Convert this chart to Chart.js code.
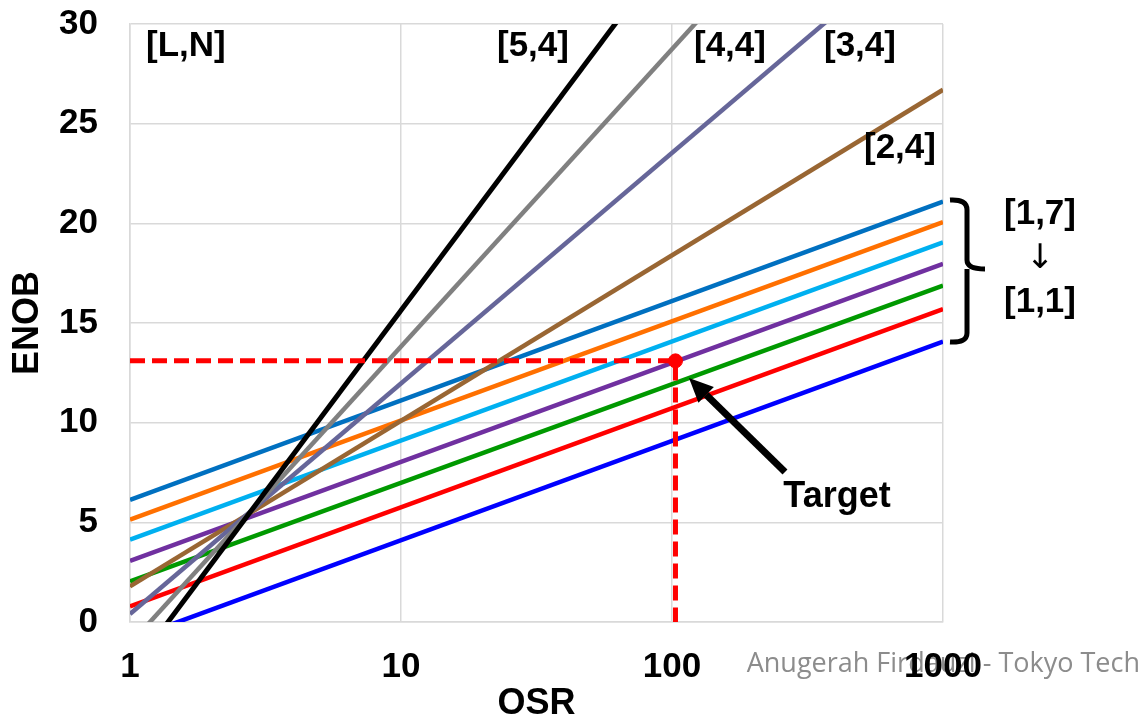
<!DOCTYPE html>
<html>
<head>
<meta charset="utf-8">
<script src="https://cdn.jsdelivr.net/npm/chart.js@4.4.0/dist/chart.umd.min.js"></script>
<style>
  html, body { margin: 0; padding: 0; background: #fff; }
  #wrap { width: 1141px; height: 719px; }
</style>
</head>
<body>
<div id="wrap"><canvas id="enobChart" width="1141" height="719"></canvas></div>
<script>
// [L,N] = modulator order, quantizer bits. Each line read at OSR = 1 and OSR = 1000.
const osrPoints = [1, 1000];
const seriesLabels = ['[5,4]', '[4,4]', '[3,4]', '[2,4]', '[1,7]', '[1,6]', '[1,5]', '[1,4]', '[1,3]', '[1,2]', '[1,1]'];
const enobAtOsr1 = [-2.55, -1.10, 0.40, 1.79, 6.13, 5.13, 4.13, 3.07, 2.04, 0.78, -0.88];
const enobAtOsr1000 = [52.0, 43.66, 35.1, 26.7, 21.09, 20.06, 19.04, 17.97, 16.88, 15.70, 14.07];
const seriesColors = ['#000000', '#808080', '#666699', '#996633', '#0070C0', '#FF7000', '#00B0F0', '#7030A0', '#009900', '#FF0000', '#0000FF'];

const xTickValues = [1, 10, 100, 1000];
const yTickValues = [0, 5, 10, 15, 20, 25, 30];

const targetOsr = 103;
const targetEnob = 13.1;

const boldFont = '"Liberation Sans", Arial, sans-serif';

const lineDatasets = seriesLabels.map((label, i) => ({
    label,
    data: osrPoints.map((x, j) => ({ x, y: j === 0 ? enobAtOsr1[i] : enobAtOsr1000[i] })),
    borderColor: seriesColors[i],
    borderWidth: i === 0 ? 5 : 4.5,
    pointRadius: 0,
    tension: 0
}));

const targetDatasets = [
    {
        label: 'target point',
        data: [{ x: targetOsr, y: targetEnob }],
        showLine: false,
        pointRadius: 7,
        pointBackgroundColor: '#FF0000',
        pointBorderColor: '#FF0000'
    },
    {
        label: 'target guide',
        data: [{ x: 1, y: targetEnob }, { x: targetOsr, y: targetEnob }, { x: targetOsr, y: 0 }],
        borderColor: '#FF0000',
        borderWidth: 5,
        borderDash: [15, 7],
        pointRadius: 0,
        tension: 0
    }
];

// text, bracket, arrow and watermark drawn on top of the chart
const annotations = {
    id: 'annotations',
    beforeDraw(chart) {
        const ctx = chart.ctx;
        ctx.save();
        ctx.fillStyle = '#8c8c8c';
        ctx.font = '27px "Open Sans", sans-serif';
        ctx.textAlign = 'right';
        ctx.textBaseline = 'alphabetic';
        ctx.fillText('Anugerah Firdauzi - Tokyo Tech', 1140, 672);
        ctx.restore();
    },
    afterDatasetsDraw(chart) {
        const ctx = chart.ctx;
        ctx.save();
        ctx.fillStyle = '#000';
        ctx.font = 'bold 35px ' + boldFont;
        ctx.textAlign = 'left';
        ctx.textBaseline = 'middle';
        ctx.fillText('[L,N]', 146, 46);
        ctx.fillText('[5,4]', 497, 46);
        ctx.fillText('[4,4]', 694, 46);
        ctx.fillText('[3,4]', 824, 46);
        ctx.fillText('[2,4]', 864, 148);
        ctx.textAlign = 'center';
        ctx.fillText('[1,7]', 1040, 214);
        ctx.fillText('[1,1]', 1040, 302);
        ctx.font = 'bold 36px ' + boldFont;
        ctx.fillText('Target', 837, 497);

        ctx.font = '34px "DejaVu Sans", sans-serif';
        ctx.fillText('\u2193', 1040, 259);

        // bracket
        ctx.strokeStyle = '#000';
        ctx.lineWidth = 5;
        ctx.lineJoin = 'round';
        ctx.lineCap = 'butt';
        ctx.beginPath();
        ctx.moveTo(950, 200);
        ctx.quadraticCurveTo(967, 199, 967, 210);
        ctx.lineTo(967, 260);
        ctx.quadraticCurveTo(967, 269, 985, 269);
        ctx.moveTo(967, 269);
        ctx.quadraticCurveTo(967, 278, 967, 290);
        ctx.lineTo(967, 333);
        ctx.quadraticCurveTo(967, 343, 950, 342);
        ctx.stroke();

        // arrow to target
        const tail = { x: 785, y: 472 };
        const tip = { x: 689, y: 378 };
        const ang = Math.atan2(tip.y - tail.y, tip.x - tail.x);
        const headLen = 24, headHalf = 11;
        const bx = tip.x - headLen * Math.cos(ang), by = tip.y - headLen * Math.sin(ang);
        ctx.lineWidth = 7;
        ctx.beginPath();
        ctx.moveTo(tail.x, tail.y);
        ctx.lineTo(bx, by);
        ctx.stroke();
        ctx.beginPath();
        ctx.moveTo(tip.x, tip.y);
        ctx.lineTo(bx + headHalf * Math.sin(ang), by - headHalf * Math.cos(ang));
        ctx.lineTo(bx - headHalf * Math.sin(ang), by + headHalf * Math.cos(ang));
        ctx.closePath();
        ctx.fill();
        ctx.restore();
    }
};

new Chart(document.getElementById('enobChart'), {
    type: 'line',
    data: { datasets: [...targetDatasets, ...lineDatasets] },
    options: {
        responsive: false,
        animation: false,
        layout: { padding: { left: 0, right: 198, top: 24, bottom: 0 } },
        plugins: { legend: { display: false }, tooltip: { enabled: false } },
        scales: {
            x: {
                type: 'logarithmic',
                min: 1,
                max: 1000,
                afterBuildTicks: (scale) => { scale.ticks = xTickValues.map(v => ({ value: v })); },
                afterFit: (scale) => { scale.height = 97; scale.paddingLeft = 0; scale.paddingRight = 0; },
                ticks: {
                    color: '#000',
                    font: { family: boldFont, size: 35, weight: 'bold' },
                    padding: 24,
                    maxRotation: 0,
                    autoSkip: false,
                    callback: (v) => String(v)
                },
                grid: { color: '#d9d9d9', lineWidth: 1.5, drawTicks: false },
                border: { color: '#d9d9d9', width: 1.5 },
                title: {
                    display: true,
                    text: 'OSR',
                    color: '#000',
                    font: { family: boldFont, size: 36, weight: 'bold', lineHeight: 0.84 },
                    padding: 0
                }
            },
            y: {
                min: 0,
                max: 30,
                afterBuildTicks: (scale) => { scale.ticks = yTickValues.map(v => ({ value: v })); },
                afterFit: (scale) => { scale.width = 130; scale.paddingTop = 0; scale.paddingBottom = 0; },
                ticks: {
                    color: '#000',
                    font: { family: boldFont, size: 35, weight: 'bold' },
                    padding: 32
                },
                grid: { color: '#d9d9d9', lineWidth: 1.5, drawTicks: false },
                border: { color: '#d9d9d9', width: 1.5 },
                title: {
                    display: true,
                    text: 'ENOB',
                    color: '#000',
                    font: { family: boldFont, size: 36, weight: 'bold', lineHeight: 1.2 },
                    padding: { top: 6, bottom: 0 }
                }
            }
        }
    },
    plugins: [annotations]
});
</script>
</body>
</html>
